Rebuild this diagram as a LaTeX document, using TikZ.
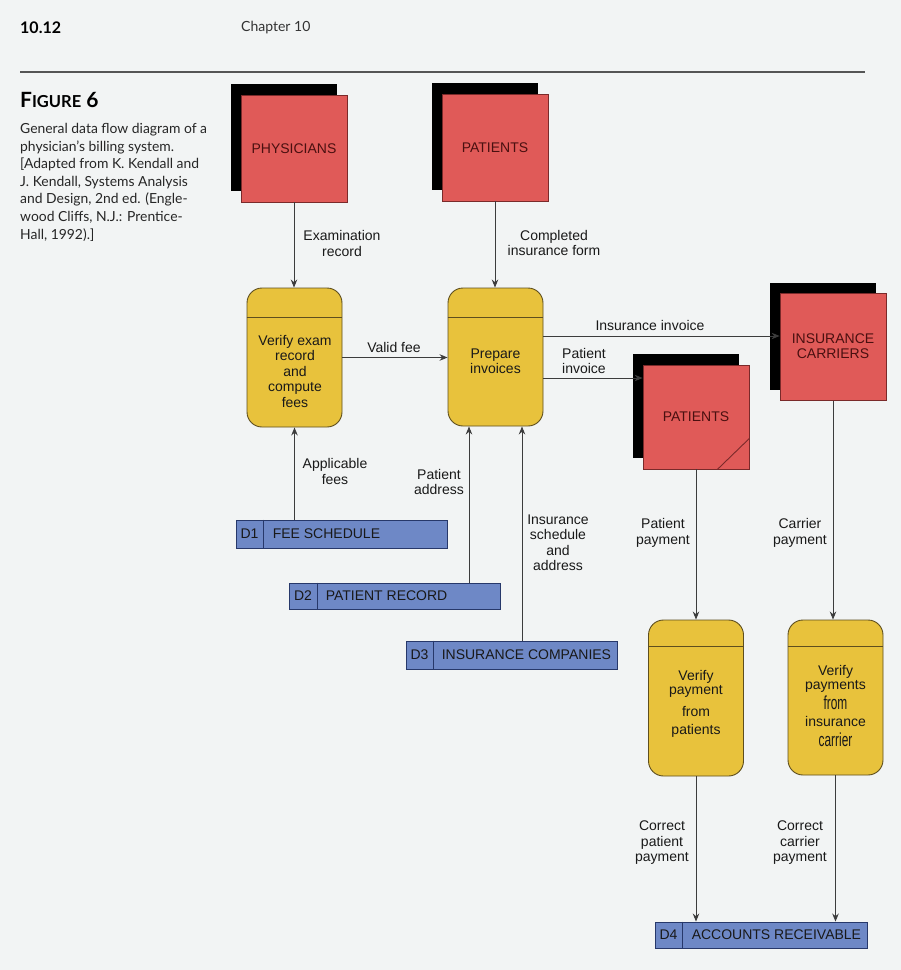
\documentclass[tikz,border=0pt]{standalone}
\usepackage{fontspec}
\setmainfont{Liberation Sans}
\newfontfamily\bookfont{Lato}
\usetikzlibrary{arrows.meta,shadows}

\definecolor{pagebg}{HTML}{F2F4F4}
\definecolor{entred}{HTML}{E05A58}
\definecolor{entline}{HTML}{7A2A2A}
\definecolor{enttext}{HTML}{4A1010}
\definecolor{procfill}{HTML}{E8C23C}
\definecolor{procline}{HTML}{5E4E1E}
\definecolor{storefill}{HTML}{6E88C6}
\definecolor{storeline}{HTML}{27386A}
\definecolor{flowline}{HTML}{3C3C3C}
\definecolor{ruleline}{HTML}{555555}

\tikzset{
  entity/.style={draw=entline, line width=0.8pt, fill=entred,
    minimum width=106pt, minimum height=107pt, inner sep=0pt,
    general shadow={fill=black, shadow xshift=-10pt, shadow yshift=11pt},
    font=\fontsize{14}{15.5}\selectfont, text=enttext, align=center},
  process/.style={draw=procline, line width=0.9pt, fill=procfill,
    rounded corners=15pt, minimum width=95pt, inner sep=0pt},
  proctext/.style={font=\fontsize{14}{15.5}\selectfont, text=black!90,
    align=center, inner sep=0pt},
  store/.style={draw=storeline, line width=0.9pt, fill=storefill,
    minimum width=211pt, minimum height=27pt, inner sep=0pt},
  storetext/.style={font=\fontsize{14}{15}\selectfont, text=black!90,
    inner sep=0pt, anchor=west},
  divider/.style={draw=procline, line width=0.9pt},
  storediv/.style={draw=storeline, line width=0.9pt},
  flow/.style={draw=flowline, line width=0.9pt,
    -{Stealth[length=8pt,width=6.5pt]}},
  flowlabel/.style={font=\fontsize{14}{15.5}\selectfont, align=center,
    text=black!90, inner sep=0pt},
}

\begin{document}
\begin{tikzpicture}[x=1pt, y=-1pt]
  % page
  \fill[pagebg] (0,0) rectangle (901,970);
  \useasboundingbox (0,0) rectangle (901,970);

  % running head and rule
  \node[anchor=west, inner sep=0pt, font=\bookfont\bfseries\fontsize{16}{16}\selectfont]
    (folio) at (20,28) {10.12};
  \node[anchor=west, inner sep=0pt, font=\bookfont\fontsize{14}{14}\selectfont, text=black!80]
    (chap) at (241,28) {Chapter 10};
  \draw[ruleline, line width=1.4pt] (20,72) -- (865,72);

  % figure caption
  \node[anchor=west, inner sep=0pt, font=\bookfont\bfseries] (figno) at (20,100)
    {{\fontsize{21}{21}\selectfont F}{\fontsize{16.5}{16}\selectfont IGURE}%
     {\fontsize{21}{21}\selectfont\ 6}};
  \node[anchor=north west, inner sep=0pt, align=left, text=black!85,
        font=\bookfont\fontsize{13.9}{17.6}\selectfont] (caption) at (20,123)
    {General data flow diagram of a\\
     physician’s billing system.\\
     {[}Adapted from K. Kendall and\\
     J. Kendall, Systems Analysis\\
     and Design, 2nd ed. (Engle-\\
     wood Cliffs, N.J.: Prentice-\\
     Hall, 1992).{]}};

  % external entities
  \node[entity] (phys) at (294,148.5) {PHYSICIANS};
  \node[entity] (pat)  at (495,147.5) {PATIENTS};
  \node[entity] (ins)  at (833,347) {\raisebox{2pt}{\shortstack{INSURANCE\\[2pt]CARRIERS}}};
  \node[entity, minimum height=104pt] (pat2) at (696,417) {PATIENTS};
  \draw[entline, line width=0.9pt] ([yshift=31pt]pat2.south east) -- ([xshift=-32pt]pat2.south east);

  % processes
  \node[process, minimum height=139pt] (verify) at (294.5,357.5) {};
  \draw[divider] ([yshift=-30pt]verify.north west) -- ([yshift=-30pt]verify.north east);
  \node[proctext] (verifyt) at (295,371) {Verify exam\\record\\and\\compute\\fees};

  \node[process, minimum height=138pt] (prep) at (495.5,357) {};
  \draw[divider] ([yshift=-30pt]prep.north west) -- ([yshift=-30pt]prep.north east);
  \node[proctext] (prept) at (495.5,361) {Prepare\\invoices};

  \node[process, minimum height=156pt] (vpay) at (696,698) {};
  \draw[divider] ([yshift=-27pt]vpay.north west) -- ([yshift=-27pt]vpay.north east);
  \node[proctext] (vpayt) at (696,704)
    {Verify\\[-1.5pt]payment\\[6pt]from\\[3pt]patients};

  \node[process, minimum height=155pt] (vcar) at (835.5,697.5) {};
  \draw[divider] ([yshift=-27pt]vcar.north west) -- ([yshift=-27pt]vcar.north east);
  \node[proctext] (vcart) at (835.5,706)
    {Verify\\[-1pt]payments\\[2pt]\scalebox{0.85}[1.35]{from}\\[1pt]insurance\\[5pt]\scalebox{0.85}[1.35]{carrier}};

  % data stores
  \node[store, minimum height=28pt] (d1) at (341.5,534) {};
  \draw[storediv] ([xshift=28pt]d1.north west) -- ([xshift=28pt]d1.south west);
  \node[storetext, anchor=center] (d1id) at ([xshift=14pt]d1.west) {D1};
  \node[storetext] (d1n) at ([xshift=37pt]d1.west) {FEE SCHEDULE};

  \node[store, minimum height=26pt] (d2) at (394.5,596) {};
  \draw[storediv] ([xshift=29pt]d2.north west) -- ([xshift=29pt]d2.south west);
  \node[storetext, anchor=center] (d2id) at ([xshift=14.5pt]d2.west) {D2};
  \node[storetext] (d2n) at ([xshift=37pt]d2.west) {PATIENT RECORD};

  \node[store, minimum height=28pt] (d3) at (511.5,655) {};
  \draw[storediv] ([xshift=28pt]d3.north west) -- ([xshift=28pt]d3.south west);
  \node[storetext, anchor=center] (d3id) at ([xshift=14pt]d3.west) {D3};
  \node[storetext] (d3n) at ([xshift=36pt]d3.west) {INSURANCE COMPANIES};

  \node[store, minimum width=212pt, minimum height=26pt] (d4) at (761,935) {};
  \draw[storediv] ([xshift=28pt]d4.north west) -- ([xshift=28pt]d4.south west);
  \node[storetext, anchor=center] (d4id) at ([xshift=14pt]d4.west) {D4};
  \node[storetext] (d4n) at ([xshift=37pt]d4.west) {ACCOUNTS RECEIVABLE};

  % data flows
  \draw[flow] (phys.south) -- (phys.south |- verify.north);
  \draw[flow] (pat.south) -- (pat.south |- prep.north);
  \draw[flow] (verify.east) -- (verify.east -| prep.west);
  \draw[flow] ([yshift=21pt]prep.east) -- ([yshift=21pt]prep.east -| ins.west);
  \draw[flow] ([yshift=-21pt]prep.east) -- ([yshift=-21pt]prep.east -| pat2.west);
  \draw[flow] (verify.south |- d1.north) -- (verify.south);
  \draw[flow] ([xshift=-26.5pt]prep.south |- d2.north) -- ([xshift=-26.5pt]prep.south);
  \draw[flow] ([xshift=26.5pt]prep.south |- d3.north) -- ([xshift=26.5pt]prep.south);
  \draw[flow] (pat2.south) -- (pat2.south |- vpay.north);
  \draw[flow] (ins.south) -- (ins.south |- vcar.north);
  \draw[flow] (vpay.south) -- (vpay.south |- d4.north);
  \draw[flow] (vcar.south) -- (vcar.south |- d4.north);

  % flow labels
  \node[flowlabel] (lexam) at (342,243.5) {Examination\\record};
  \node[flowlabel] (lform) at (554,243) {Completed\\insurance form};
  \node[flowlabel] (lfee)  at (394,347) {Valid fee};
  \node[flowlabel] (linsinv) at (650,325) {Insurance invoice};
  \node[flowlabel] (lpatinv) at (584,361) {Patient\\invoice};
  \node[flowlabel] (lappl) at (335,471.5) {Applicable\\fees};
  \node[flowlabel] (laddr) at (439,482) {Patient\\address};
  \node[flowlabel] (lsched) at (558,542.5) {Insurance\\schedule\\and\\address};
  \node[flowlabel] (lppay) at (663,533) {Patient\\payment};
  \node[flowlabel] (lcpay) at (800,533) {Carrier\\payment};
  \node[flowlabel] (lcorrp) at (662,843) {Correct\\patient\\payment};
  \node[flowlabel] (lcorrc) at (800,843) {Correct\\carrier\\payment};
\end{tikzpicture}
\end{document}
